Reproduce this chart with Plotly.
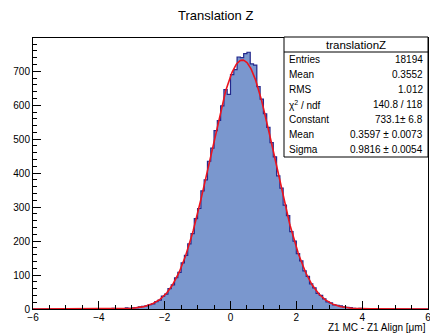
import numpy as np
import plotly.graph_objects as go

# ---------------- data ----------------
x_min, x_max, n_bins = -6.0, 6.0, 120
counts = [
    0, 0, 0, 0, 0, 0, 0, 0, 0, 0,
    0, 0, 0, 0, 0, 0, 0, 1, 0, 0,
    0, 0, 0, 0, 2, 0, 1, 1, 3, 2,
    3, 4, 6, 8, 9, 13, 15, 22, 26, 38,
    44, 60, 71, 92, 108, 136, 158, 192, 222, 266,
    296, 348, 380, 435, 474, 525, 555, 598, 646, 632,
    690, 705, 742, 740, 752, 756, 722, 718, 655, 618,
    575, 535, 490, 448, 392, 356, 306, 275, 228, 200,
    163, 142, 112, 96, 74, 62, 46, 40, 30, 21,
    18, 12, 11, 9, 6, 5, 4, 2, 1, 2,
    0, 1, 0, 0, 0, 0, 0, 0, 0, 0,
    0, 0, 0, 0, 0, 0, 0, 0, 0, 0,
]
fit_constant, fit_mean, fit_sigma = 733.1, 0.3597, 0.9816

stats_title = "translationZ"
stats_labels = ["Entries", "Mean", "RMS", "χ<sup>2</sup> / ndf", "Constant", "Mean", "Sigma"]
stats_values = ["18194", "0.3552", "1.012", "140.8 / 118", "733.1± 6.8",
                "0.3597 ± 0.0073", "0.9816 ± 0.0054"]

title_text = "Translation Z"
x_title = "Z1 MC - Z1 Align [μm]"

# ---------------- geometry ----------------
W, H = 430, 334
L, R, T, B = 33, 428, 38, 309   # plot frame in pixels

def px(xp):
    return (xp - L) / (R - L)

def py(yp):
    return (B - yp) / (B - T)

edges = np.linspace(x_min, x_max, n_bins + 1)
centers = 0.5 * (edges[:-1] + edges[1:])
width = edges[1] - edges[0]

fill_col = "rgb(122,151,206)"
line_col = "rgb(35,40,140)"
font = "Liberation Sans, Arial, Helvetica, sans-serif"

fig = go.Figure()
fig.add_trace(go.Bar(x=centers, y=counts, width=width,
                     marker=dict(color=fill_col, line=dict(width=0)),
                     hoverinfo="skip"))
step_x = list(edges)
step_y = list(counts) + [counts[-1]]
fig.add_trace(go.Scatter(x=step_x, y=step_y, mode="lines",
                         line=dict(color=line_col, width=1.2, shape="hv"),
                         hoverinfo="skip"))
xf = np.linspace(x_min, x_max, 600)
yf = fit_constant * np.exp(-0.5 * ((xf - fit_mean) / fit_sigma) ** 2)
fig.add_trace(go.Scatter(x=xf, y=yf, mode="lines",
                         line=dict(color="rgb(235,20,30)", width=1.6),
                         hoverinfo="skip"))

fig.update_layout(
    width=W, height=H,
    margin=dict(l=L, r=W - R, t=T, b=H - B, autoexpand=False),
    paper_bgcolor="white", plot_bgcolor="white",
    showlegend=False, bargap=0,
    font=dict(family=font, size=10, color="black"),
)
fig.update_xaxes(
    range=[x_min, x_max], showgrid=False, zeroline=False,
    showline=True, linecolor="black", linewidth=1, mirror=True,
    ticks="inside", ticklen=8, tickcolor="black", tickwidth=1,
    tick0=-6, dtick=2, tickfont=dict(size=10, family=font),
    ticklabeloverflow="allow", ticklabelstandoff=-1,
    minor=dict(ticks="inside", ticklen=4, dtick=0.5, tickcolor="black", showgrid=False),
)
fig.update_yaxes(
    range=[0, 798], showgrid=False, zeroline=False,
    showline=True, linecolor="black", linewidth=1, mirror=True,
    ticks="inside", ticklen=8, tickcolor="black", tickwidth=1,
    tick0=0, dtick=100, tickfont=dict(size=10, family=font),
    ticklabeloverflow="allow",
    minor=dict(ticks="inside", ticklen=4, dtick=20, tickcolor="black", showgrid=False),
)

# title
fig.add_annotation(x=px(W / 2), y=py(15), xref="paper", yref="paper",
                   text=title_text, showarrow=False,
                   font=dict(size=13, family=font), xanchor="center", yanchor="middle")
# x title
fig.add_annotation(x=px(428), y=py(327), xref="paper", yref="paper",
                   text=x_title, showarrow=False,
                   font=dict(size=10, family=font), xanchor="right", yanchor="middle")

# stats box
bx0, bx1, by0, row_h = 284, 428, 37, 15
n_rows = len(stats_labels) + 1
by1 = by0 + row_h * n_rows
fig.add_shape(type="rect", xref="paper", yref="paper",
              x0=px(bx0), x1=px(bx1), y0=py(by0), y1=py(by1),
              line=dict(color="black", width=1), fillcolor="white", layer="above")
fig.add_shape(type="line", xref="paper", yref="paper",
              x0=px(bx0), x1=px(bx1), y0=py(by0 + row_h), y1=py(by0 + row_h),
              line=dict(color="black", width=1), layer="above")
fig.add_annotation(x=px((bx0 + bx1) / 2), y=py(by0 + row_h / 2), xref="paper", yref="paper",
                   text=stats_title, showarrow=False, font=dict(size=11.5, family=font),
                   xanchor="center", yanchor="middle")
for i, (lab, val) in enumerate(zip(stats_labels, stats_values)):
    yc = py(by0 + row_h * (i + 1.5))
    fig.add_annotation(x=px(bx0 + 3), y=yc, xref="paper", yref="paper", text=lab,
                       showarrow=False, font=dict(size=10, family=font),
                       xanchor="left", yanchor="middle")
    fig.add_annotation(x=px(bx1 - 3), y=yc, xref="paper", yref="paper", text=val,
                       showarrow=False, font=dict(size=10, family=font),
                       xanchor="right", yanchor="middle")

fig.write_html("out.html", config={"displayModeBar": False},
               post_script="document.body.style.margin='0';")
